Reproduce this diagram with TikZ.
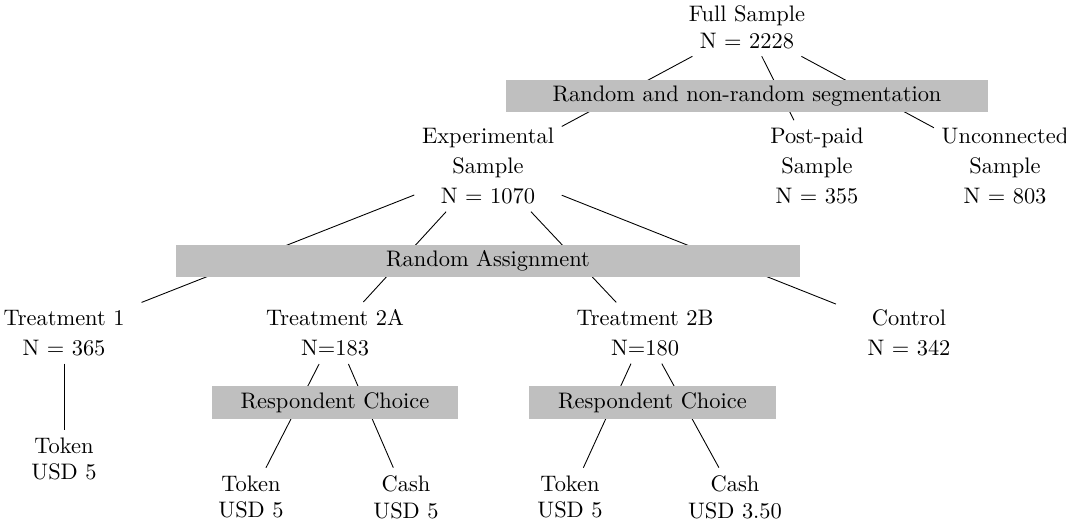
\documentclass[tikz,border=0pt]{standalone}
\begin{document}
\begin{tikzpicture}[x=0.4545pt, y=-0.4545pt,
        txt/.style = {align=center, font=\fontsize{10.2pt}{13.6pt}\selectfont},
        low/.style = {align=center, font=\fontsize{10.2pt}{12.2pt}\selectfont},
        band/.style = {fill=gray!50, inner sep=0pt, minimum height=14.7pt, font=\fontsize{10.2pt}{12.2pt}\selectfont}]
        \useasboundingbox (0,0) rectangle (1066,523);
        % samples
        \node[low] (full) at (747,27) {Full Sample\\N = 2228};
        \node[txt] (exp) at (488,166) {Experimental\\Sample\\N = 1070};
        \node[txt] (post) at (817,166) {Post-paid\\Sample\\N = 355};
        \node[txt] (unc) at (1005,166) {Unconnected\\Sample\\N = 803};
        % treatment groups
        \node[txt, minimum width=90pt] (t1) at (64,333) {Treatment 1\\N = 365};
        \node[txt] (t2a) at (335,333) {Treatment 2A\\N=183};
        \node[txt] (t2b) at (645,333) {Treatment 2B\\N=180};
        \node[txt, minimum width=66pt] (ctrl) at (909,333) {Control\\N = 342};
        % payments
        \node[low] (tok1) at (64,459) {Token\\USD 5};
        \node[low] (tok2a) at (251,497) {Token\\USD 5};
        \node[low] (cash2a) at (406,497) {Cash\\USD 5};
        \node[low] (tok2b) at (570,497) {Token\\USD 5};
        \node[low] (cash2b) at (735,497) {Cash\\USD 3.50};
        \draw (full) -- (exp);
        \draw (full) -- (post);
        \draw (full) -- (unc);
        \draw (exp) -- (t1);
        \draw (exp) -- (t2a);
        \draw (exp) -- (t2b);
        \draw (exp) -- (ctrl);
        \draw (t1) -- (tok1);
        \draw (t2a) -- (tok2a);
        \draw (t2a) -- (cash2a);
        \draw (t2b) -- (tok2b);
        \draw (t2b) -- (cash2b);
        % grey bands on top of the edges
        \node[band, minimum width=219.1pt] (seg) at (747,96) {Random and non-random segmentation};
        \node[band, minimum width=283.6pt] (assign) at (488,261) {Random Assignment};
        \node[band, minimum width=111.8pt] (choiceA) at (335,402.5) {Respondent Choice};
        \node[band, minimum width=112.3pt] (choiceB) at (652.5,402.5) {Respondent Choice};
\end{tikzpicture}
\end{document}
